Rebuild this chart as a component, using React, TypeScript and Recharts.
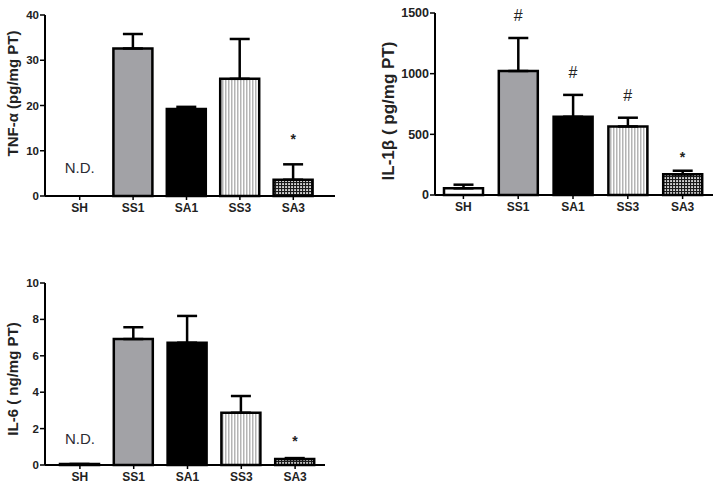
import React from 'react';
import { BarChart, Bar, XAxis, YAxis, Cell, ErrorBar, ReferenceDot } from 'recharts';

// groups and values
const groups = ['SH', 'SS1', 'SA1', 'SS3', 'SA3'];

const tnfMean = [0, 32.6, 19.2, 25.9, 3.6];
const tnfSem = [0, 3.2, 0.5, 8.8, 3.4];
const tnfMarks = ['', '', '', '', '*'];

const il1bMean = [55, 1022, 645, 565, 170];
const il1bSem = [30, 272, 180, 72, 30];
const il1bMarks = ['', '#', '#', '#', '*'];

const il6Mean = [0.05, 6.92, 6.72, 2.87, 0.33];
const il6Sem = [0, 0.65, 1.47, 0.92, 0.05];
const il6Marks = ['', '', '', '', '*'];

const tnfTicks = [0, 10, 20, 30, 40];
const il1bTicks = [0, 500, 1000, 1500];
const il6Ticks = [0, 2, 4, 6, 8, 10];

const FONT = '"Liberation Sans", Arial, sans-serif';
const INK = '#222222';

const fillsFor = (id: string) => ['#ffffff', '#a2a2a6', '#000000', `url(#stripes-${id})`, `url(#checks-${id})`];

type PanelProps = {
  id: string;
  left: number;
  top: number;
  width: number;
  height: number;
  margin: { top: number; right: number; bottom: number; left: number };
  yWidth: number;
  max: number;
  ticks: number[];
  tickSize: number;
  padding: { left: number; right: number };
  title: string;
  titleX: number;
  titleShift: number;
  titleSize: number;
  means: number[];
  sems: number[];
  marks: string[];
  starOffset: number;
  notDetected?: boolean;
  ndOffset?: number;
};

const Panel = (p: PanelProps) => {
  const rows = groups.map((g, i) => ({ group: g, mean: p.means[i], err: [0, p.sems[i]] }));
  const fills = fillsFor(p.id);
  return (
    <div style={{ position: 'absolute', left: p.left, top: p.top }}>
      <BarChart width={p.width} height={p.height} data={rows} margin={p.margin}>
        <defs>
          <pattern id={`stripes-${p.id}`} width="3" height="4" patternUnits="userSpaceOnUse">
            <rect width="3" height="4" fill="#ffffff" />
            <rect width="1.5" height="4" fill="#b4b4b4" />
          </pattern>
          <pattern id={`checks-${p.id}`} width="3" height="3" patternUnits="userSpaceOnUse">
            <rect width="3" height="3" fill="#1a1a1a" />
            <rect x="0.2" y="0.2" width="1.7" height="1.7" fill="#ffffff" />
          </pattern>
        </defs>
        <XAxis
          dataKey="group"
          padding={p.padding}
          axisLine={{ stroke: '#000', strokeWidth: 2 }}
          tickLine={{ stroke: '#000', strokeWidth: 1.5 }}
          tickSize={4}
          tickMargin={3}
          tick={{ fontFamily: FONT, fontSize: 12, fontWeight: 'bold', fill: INK }}
        />
        <YAxis
          width={p.yWidth}
          domain={[0, p.max]}
          ticks={p.ticks}
          interval={0}
          axisLine={{ stroke: '#000', strokeWidth: 2 }}
          tickLine={{ stroke: '#000', strokeWidth: 1.5 }}
          tickSize={5}
          tickMargin={1}
          tick={{ fontFamily: FONT, fontSize: p.tickSize, fontWeight: 'bold', fill: INK }}
          label={{
            content: (lp: any) => {
              const vb = lp.viewBox || { x: 0, y: 0, height: 0 };
              const cy = vb.y + vb.height / 2 + p.titleShift;
              return (
                <text
                  transform={`translate(${p.titleX}, ${cy}) rotate(-90)`}
                  textAnchor="middle"
                  dominantBaseline="central"
                  fontFamily={FONT}
                  fontSize={p.titleSize}
                  fontWeight="bold"
                  fill={INK}
                >
                  {p.title}
                </text>
              );
            },
          }}
        />
        <Bar dataKey="mean" barSize={39} stroke="#000" strokeWidth={2.5} isAnimationActive={false}>
          {rows.map((r, i) => (
            <Cell key={r.group} fill={fills[i]} />
          ))}
          <ErrorBar dataKey="err" direction="y" width={10} stroke="#000" strokeWidth={2.5} isAnimationActive={false} />
        </Bar>
        {p.notDetected && (
          <ReferenceDot
            x="SH"
            y={0}
            r={0}
            fill="none"
            stroke="none"
            label={{ value: 'N.D.', position: 'top', offset: p.ndOffset ?? 22, fill: '#2b2b33', fontSize: 15, fontFamily: FONT }}
          />
        )}
        {rows.map((r, i) =>
          p.marks[i] ? (
            <ReferenceDot
              key={`mark-${r.group}`}
              x={r.group}
              y={p.means[i] + p.sems[i]}
              r={0}
              fill="none"
              stroke="none"
              label={{
                value: p.marks[i],
                position: 'top',
                offset: p.marks[i] === '#' ? 17 : p.starOffset,
                fill: INK,
                fontSize: p.marks[i] === '#' ? 16 : 14,
                fontWeight: p.marks[i] === '#' ? 'normal' : 'bold',
                fontFamily: FONT,
              }}
            />
          ) : null
        )}
      </BarChart>
    </div>
  );
};

export default function App() {
  return (
    <div style={{ position: 'fixed', left: 0, top: 0, width: 716, height: 489, background: '#fff' }}>
      <Panel
        id="tnf"
        left={0}
        top={0}
        width={340}
        height={230}
        margin={{ top: 15, right: 5, bottom: 4, left: 0 }}
        yWidth={45}
        max={40}
        ticks={tnfTicks}
        tickSize={11.5}
        padding={{ left: 8, right: 15 }}
        title="TNF-α (pg/mg PT)"
        titleX={12}
        titleShift={-12}
        titleSize={15}
        means={tnfMean}
        sems={tnfSem}
        marks={tnfMarks}
        starOffset={20}
        notDetected
        ndOffset={23}
      />
      <Panel
        id="il1b"
        left={370}
        top={0}
        width={346}
        height={229}
        margin={{ top: 13, right: 3, bottom: 4, left: 0 }}
        yWidth={65}
        max={1500}
        ticks={il1bTicks}
        tickSize={12.5}
        padding={{ left: 1, right: 3 }}
        title="IL-1β ( pg/mg PT)"
        titleX={18}
        titleShift={7}
        titleSize={17}
        means={il1bMean}
        sems={il1bSem}
        marks={il1bMarks}
        starOffset={9}
      />
      <Panel
        id="il6"
        left={0}
        top={240}
        width={328}
        height={249}
        margin={{ top: 43, right: 3, bottom: -6, left: 0 }}
        yWidth={45}
        max={10}
        ticks={il6Ticks}
        tickSize={11.5}
        padding={{ left: 8, right: 3 }}
        title="IL-6 ( ng/mg PT)"
        titleX={12}
        titleShift={5}
        titleSize={15}
        means={il6Mean}
        sems={il6Sem}
        marks={il6Marks}
        starOffset={12}
        notDetected
        ndOffset={21}
      />
    </div>
  );
}
